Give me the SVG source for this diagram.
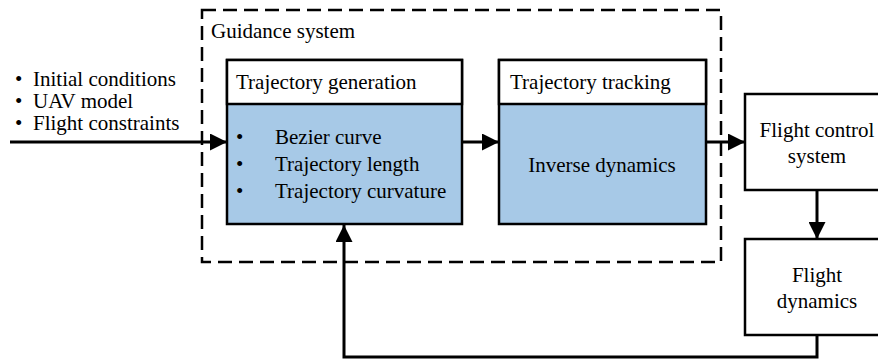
<svg xmlns="http://www.w3.org/2000/svg" width="878" height="361" viewBox="0 0 878 361">
<style>
text{font-family:"Liberation Serif","Times New Roman",serif;font-size:21px;fill:#000}
.box{fill:#fff;stroke:#000;stroke-width:2.5}
.blue{fill:#A7C9E7;stroke:#000;stroke-width:2.5}
.line{fill:none;stroke:#000;stroke-width:3}
.c{text-anchor:middle}
</style>
<defs>
<marker id="ah" markerWidth="17" markerHeight="17" refX="17" refY="8.5" orient="auto" markerUnits="userSpaceOnUse">
<path d="M0,0 L17,8.5 L0,17 Z" fill="#000"/>
</marker>
</defs>
<rect width="878" height="361" fill="#fff"/>
<g id="guidance">
<rect x="202" y="10" width="519" height="252" fill="none" stroke="#000" stroke-width="2.5" stroke-dasharray="14,7"/>
<text x="211" y="38">Guidance system</text>
</g>
<g id="inputs">
<text x="15" y="86">•</text><text x="33" y="86">Initial conditions</text>
<text x="15" y="108">•</text><text x="33" y="108">UAV model</text>
<text x="15" y="130">•</text><text x="33" y="130">Flight constraints</text>
</g>
<g id="trajgen">
<rect class="blue" x="227" y="60" width="235" height="164"/>
<rect class="box" x="227" y="60" width="235" height="44"/>
<text x="236" y="89">Trajectory generation</text>
<text x="236" y="144">•</text><text x="275" y="144">Bezier curve</text>
<text x="236" y="171">•</text><text x="275" y="171">Trajectory length</text>
<text x="236" y="198">•</text><text x="275" y="198">Trajectory curvature</text>
</g>
<g id="trajtrack">
<rect class="blue" x="499" y="60" width="207" height="164"/>
<rect class="box" x="499" y="60" width="207" height="44"/>
<text x="510" y="89">Trajectory tracking</text>
<text class="c" x="602" y="172">Inverse dynamics</text>
</g>
<g id="fcs">
<rect class="box" x="745" y="94" width="140" height="96"/>
<text class="c" x="817" y="137">Flight control</text>
<text class="c" x="817" y="163">system</text>
</g>
<g id="fd">
<rect class="box" x="745" y="239" width="140" height="96"/>
<text class="c" x="817" y="282">Flight</text>
<text class="c" x="817" y="308">dynamics</text>
</g>
<g id="connectors">
<line class="line" x1="10" y1="142" x2="227" y2="142" marker-end="url(#ah)"/>
<line class="line" x1="462" y1="142" x2="499" y2="142" marker-end="url(#ah)"/>
<line class="line" x1="706" y1="142" x2="745" y2="142" marker-end="url(#ah)"/>
<line class="line" x1="817" y1="190" x2="817" y2="239" marker-end="url(#ah)"/>
<polyline class="line" points="817,335 817,357 344,357 344,225" marker-end="url(#ah)"/>
</g>
</svg>
